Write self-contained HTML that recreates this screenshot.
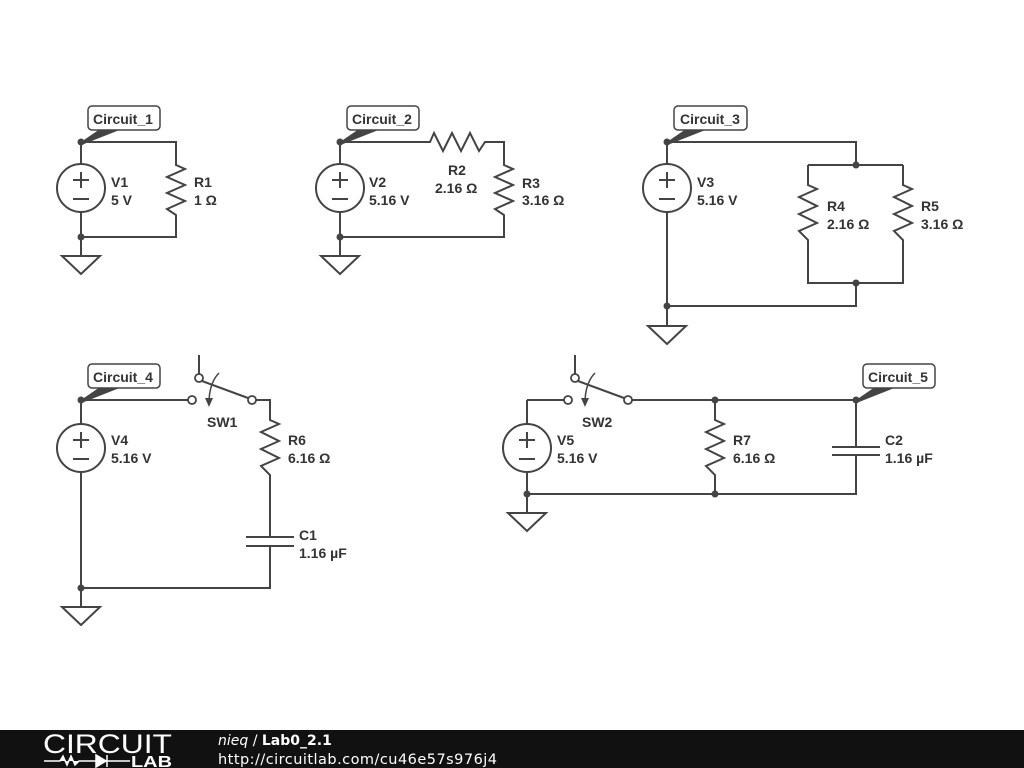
<!DOCTYPE html>
<html><head><meta charset="utf-8"><style>
html,body{margin:0;padding:0;background:#fff;width:1024px;height:768px;overflow:hidden}
svg{display:block}
text{font-family:"Liberation Sans",sans-serif;font-weight:bold;font-size:14px;fill:#333}
.w{fill:none;stroke:#444;stroke-width:2;stroke-linejoin:miter}
.d{fill:#444}
.lbl{fill:#fff;stroke:#444;stroke-width:1.5}
</style></head><body>
<svg width="1024" height="768" viewBox="0 0 1024 768">
<!-- Circuit 1 -->
<path class="w" d="M81 142 V164 M81 212 V256 M81 142 H176 V165 L185 169 L167 177 L185 185 L167 193 L185 201 L167 209 L176 215 V237 H81"/>
<circle class="w" cx="81" cy="188" r="24"/>
<path class="w" d="M73 180 H89 M81 172 V188 M73 199 H89 M62 256 H100 L81 274 Z"/>
<circle class="d" cx="81" cy="142" r="3.5"/><circle class="d" cx="81" cy="237" r="3.5"/>
<polygon class="d" points="81,142 100,129 122,129 84,144"/>
<rect class="lbl" x="88" y="106" width="72" height="24" rx="4"/>
<text x="93" y="124">Circuit_1</text>
<text x="111" y="187">V1</text><text x="111" y="205">5 V</text>
<text x="194" y="187">R1</text><text x="194" y="205">1 Ω</text>

<!-- Circuit 2 -->
<path class="w" d="M340 142 V164 M340 212 V256 M340 142 H430 L434 133 L443 151 L452 133 L461 151 L470 133 L479 151 L485 142 H504 V165 L513 169 L495 177 L513 185 L495 193 L513 201 L495 209 L504 215 V237 H340"/>
<circle class="w" cx="340" cy="188" r="24"/>
<path class="w" d="M332 180 H348 M340 172 V188 M332 199 H348 M321 256 H359 L340 274 Z"/>
<circle class="d" cx="340" cy="142" r="3.5"/><circle class="d" cx="340" cy="237" r="3.5"/>
<polygon class="d" points="340,142 359,129 381,129 343,144"/>
<rect class="lbl" x="347" y="106" width="72" height="24" rx="4"/>
<text x="352" y="124">Circuit_2</text>
<text x="369" y="187">V2</text><text x="369" y="205">5.16 V</text>
<text x="448" y="175">R2</text><text x="435" y="193">2.16 Ω</text>
<text x="522" y="188">R3</text><text x="522" y="205">3.16 Ω</text>

<!-- Circuit 3 -->
<path class="w" d="M667 142 V164 M667 212 V326 M667 142 H856 V165 M808 165 H903 M808 165 V185 L817 189 L799 197 L817 206 L799 214 L817 223 L799 231 L808 240 V283 H903 V240 L894 231 L912 223 L894 214 L912 206 L894 197 L912 189 L903 185 V165 M856 283 V306 H667"/>
<circle class="w" cx="667" cy="188" r="24"/>
<path class="w" d="M659 180 H675 M667 172 V188 M659 199 H675 M648 326 H686 L667 344 Z"/>
<circle class="d" cx="667" cy="142" r="3.5"/><circle class="d" cx="667" cy="306" r="3.5"/>
<circle class="d" cx="856" cy="165" r="3.5"/><circle class="d" cx="856" cy="283" r="3.5"/>
<polygon class="d" points="667,142 686,129 708,129 670,144"/>
<rect class="lbl" x="674" y="106" width="73" height="24" rx="4"/>
<text x="680" y="124">Circuit_3</text>
<text x="697" y="187">V3</text><text x="697" y="205">5.16 V</text>
<text x="827" y="211">R4</text><text x="827" y="229">2.16 Ω</text>
<text x="921" y="211">R5</text><text x="921" y="229">3.16 Ω</text>

<!-- Circuit 4 -->
<path class="w" d="M81 400 V424 M81 472 V607 M81 400 H188 M256 400 H270 V420 L279 424 L261 432 L279 441 L261 449 L279 458 L261 466 L270 475 V537 M246 537 H294 M246 546 H294 M270 546 V588 H81 M199 355 V374 M202 381 L248 398"/>
<circle class="w" cx="192" cy="400" r="4" style="stroke-width:1.8"/>
<circle class="w" cx="252" cy="400" r="4" style="stroke-width:1.8"/>
<circle class="w" cx="199" cy="378" r="4" style="stroke-width:1.8"/>
<path class="w" d="M219 373 Q210 382 209 400" style="stroke-width:1.5"/>
<polygon class="d" points="205,398 213,398 209,407"/>
<circle class="w" cx="81" cy="448" r="24"/>
<path class="w" d="M73 440 H89 M81 432 V448 M73 459 H89 M62 607 H100 L81 625 Z"/>
<circle class="d" cx="81" cy="400" r="3.5"/><circle class="d" cx="81" cy="588" r="3.5"/>
<polygon class="d" points="81,400 100,387 122,387 84,402"/>
<rect class="lbl" x="88" y="364" width="72" height="24" rx="4"/>
<text x="93" y="382">Circuit_4</text>
<text x="111" y="445">V4</text><text x="111" y="463">5.16 V</text>
<text x="207" y="427">SW1</text>
<text x="288" y="445">R6</text><text x="288" y="463">6.16 Ω</text>
<text x="299" y="540">C1</text><text x="299" y="558">1.16 µF</text>

<!-- Circuit 5 -->
<path class="w" d="M527 400 V424 M527 472 V513 M527 400 H564 M632 400 H856 M715 400 V420 L724 424 L706 432 L724 441 L706 449 L724 458 L706 466 L715 475 V494 M856 400 V447 M832 447 H880 M832 455 H880 M856 455 V494 H527 M575 355 V374 M578 381 L624 398"/>
<circle class="w" cx="568" cy="400" r="4" style="stroke-width:1.8"/>
<circle class="w" cx="628" cy="400" r="4" style="stroke-width:1.8"/>
<circle class="w" cx="575" cy="378" r="4" style="stroke-width:1.8"/>
<path class="w" d="M595 373 Q586 382 585 400" style="stroke-width:1.5"/>
<polygon class="d" points="581,398 589,398 585,407"/>
<circle class="w" cx="527" cy="448" r="24"/>
<path class="w" d="M519 440 H535 M527 432 V448 M519 459 H535 M508 513 H546 L527 531 Z"/>
<circle class="d" cx="527" cy="494" r="3.5"/><circle class="d" cx="715" cy="494" r="3.5"/>
<circle class="d" cx="715" cy="400" r="3.5"/><circle class="d" cx="856" cy="400" r="3.5"/>
<polygon class="d" points="856,400 875,387 897,387 859,402"/>
<rect class="lbl" x="863" y="364" width="72" height="24" rx="4"/>
<text x="868" y="382">Circuit_5</text>
<text x="557" y="445">V5</text><text x="557" y="463">5.16 V</text>
<text x="582" y="427">SW2</text>
<text x="733" y="445">R7</text><text x="733" y="463">6.16 Ω</text>
<text x="885" y="445">C2</text><text x="885" y="463">1.16 µF</text>

<!-- Footer -->
<rect x="0" y="730" width="1024" height="38" fill="#111"/>
<text x="43" y="753" textLength="129" lengthAdjust="spacingAndGlyphs" style="font-weight:normal;font-size:27px;fill:#fff">CIRCUIT</text>
<path d="M44 761 H60 L63 756 L67 765 L71 756 L75 765 L79 761 H96 M96 755 V767 L106 761 Z M107 755 V767 M107 761 H130" stroke="#fff" stroke-width="1.5" fill="#fff"/>
<text x="131" y="767" textLength="41" lengthAdjust="spacingAndGlyphs" style="font-size:16px;fill:#fff">LAB</text>
<text x="218" y="745" style="font-family:'DejaVu Sans',sans-serif;font-size:14px;fill:#fff"><tspan style="font-style:italic;font-weight:normal">nieq</tspan><tspan style="font-weight:normal"> / </tspan>Lab0_2.1</text>
<text x="218" y="764" textLength="279" style="font-family:'DejaVu Sans',sans-serif;font-size:14.5px;fill:#fff;font-weight:normal">http://circuitlab.com/cu46e57s976j4</text>
</svg>
</body></html>
